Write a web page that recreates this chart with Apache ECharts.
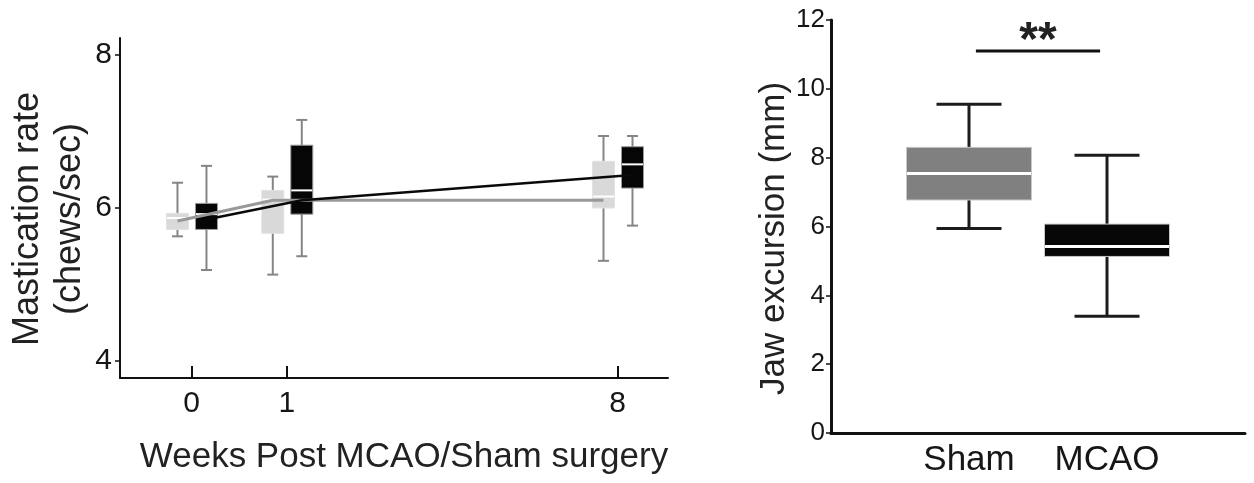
<!DOCTYPE html>
<html>
<head>
<meta charset="utf-8">
<script src="https://cdn.jsdelivr.net/npm/echarts@6/dist/echarts.min.js"></script>
<style>
html,body{margin:0;padding:0;background:#fff;}
#chart{width:1254px;height:483px;}
</style>
</head>
<body>
<div id="chart"></div>
<script>
// ---------- Data ----------
// Left panel: mastication rate (chews/sec), box stats = [min, q1, median, q3, max]
const weekLabels = ['0', '1', '8'];
const weekAxisPos = [0, 1, 4.47];         // position of each week on the (broken) time axis
const rateTicks = [4, 6, 8];
const shamRate = [
  [5.63, 5.72, 5.87, 5.93, 6.33],
  [5.13, 5.67, 6.11, 6.23, 6.41],
  [5.31, 6.00, 6.15, 6.61, 6.94]
];
const mcaoRate = [
  [5.19, 5.72, 5.92, 6.06, 6.55],
  [5.37, 5.92, 6.23, 6.82, 7.15],
  [5.77, 6.26, 6.57, 6.80, 6.94]
];
const shamMean = [5.83, 6.10, 6.10];
const mcaoMean = [5.85, 6.10, 6.43];

// Right panel: jaw excursion (mm)
const groups = ['Sham', 'MCAO'];
const groupPos = [1, 2];
const jawStats = [
  [5.94, 6.77, 7.54, 8.30, 9.55],
  [3.39, 5.13, 5.42, 6.07, 8.07]
];
const sigFrom = 1.05, sigTo = 1.95, sigLevel = 11.1, sigLabel = '**';

// ---------- Styles ----------
const FONT = "'Liberation Sans', Arial, Helvetica, sans-serif";
const TXT = '#161616';

function boxRenderer(offset, boxW, capW, fill, stroke, whiskerColor, whiskerW, medW) {
  return function (params, api) {
    const x = api.value(0);
    const v = [api.value(1), api.value(2), api.value(3), api.value(4), api.value(5)];
    const cx = api.coord([x, v[2]])[0] + offset;
    const y = v.map(d => api.coord([x, d])[1]);
    const half = boxW / 2, ch = capW / 2;
    return {
      type: 'group',
      children: [
        { type: 'line', shape: { x1: cx, y1: y[0], x2: cx, y2: y[4] }, style: { stroke: whiskerColor, lineWidth: whiskerW } },
        { type: 'line', shape: { x1: cx - ch, y1: y[0], x2: cx + ch, y2: y[0] }, style: { stroke: whiskerColor, lineWidth: whiskerW } },
        { type: 'line', shape: { x1: cx - ch, y1: y[4], x2: cx + ch, y2: y[4] }, style: { stroke: whiskerColor, lineWidth: whiskerW } },
        { type: 'rect', shape: { x: cx - half, y: y[3], width: boxW, height: y[1] - y[3] }, style: { fill: fill, stroke: stroke, lineWidth: 1 } },
        { type: 'line', shape: { x1: cx - half + 0.5, y1: y[2], x2: cx + half - 0.5, y2: y[2] }, style: { stroke: '#ffffff', lineWidth: medW } }
      ]
    };
  };
}

function meanRenderer(means, offset, color, width) {
  return function (params, api) {
    if (params.dataIndex !== 0) return null;
    const pts = means.map((m, i) => {
      const p = api.coord([weekAxisPos[i], m]);
      return [p[0] + offset, p[1]];
    });
    return { type: 'polyline', shape: { points: pts }, style: { stroke: color, lineWidth: width, fill: null } };
  };
}

const option = {
  animation: false,
  backgroundColor: '#ffffff',
  textStyle: { fontFamily: FONT },
  grid: [
    { left: 120, top: 38, width: 548, height: 340 },
    { left: 831, top: 20, width: 414, height: 413 }
  ],
  xAxis: [
    {
      type: 'value', gridIndex: 0, min: -0.75, max: 5.0,
      axisLine: { show: true, onZero: false, lineStyle: { color: '#111', width: 2 } },
      axisTick: { show: true, inside: true, length: 12, customValues: weekAxisPos, lineStyle: { color: '#111', width: 2 } },
      axisLabel: {
        customValues: weekAxisPos, fontSize: 30, color: TXT, margin: 11, fontFamily: FONT,
        formatter: v => { const i = weekAxisPos.indexOf(v); return i >= 0 ? weekLabels[i] : ''; }
      },
      splitLine: { show: false },
      name: 'Weeks Post MCAO/Sham surgery', nameLocation: 'middle', nameGap: 62,
      nameTextStyle: { fontSize: 35, color: '#222', fontFamily: FONT, padding: [0, 0, 0, 20] }
    },
    {
      type: 'value', gridIndex: 1, min: 0, max: 3,
      axisLine: { show: true, onZero: false, lineStyle: { color: '#111', width: 3 } },
      axisTick: { show: false },
      axisLabel: {
        customValues: groupPos, fontSize: 35, color: TXT, margin: 10, fontFamily: FONT,
        formatter: v => { const i = groupPos.indexOf(v); return i >= 0 ? groups[i] : ''; }
      },
      splitLine: { show: false }
    }
  ],
  yAxis: [
    {
      type: 'value', gridIndex: 0, min: 3.78, max: 8.22,
      axisLine: { show: true, onZero: false, lineStyle: { color: '#111', width: 2 } },
      axisTick: { show: true, length: 5, customValues: rateTicks, lineStyle: { color: '#111', width: 1.5 } },
      axisLabel: { customValues: rateTicks, fontSize: 30, color: TXT, margin: 8, fontFamily: FONT },
      splitLine: { show: false },
      name: 'Mastication rate\n(chews/sec)', nameLocation: 'middle', nameGap: 28,
      nameTextStyle: { fontSize: 36, lineHeight: 42, color: '#222', fontFamily: FONT, padding: [0, 22, 0, 0] }
    },
    {
      type: 'value', gridIndex: 1, min: 0, max: 12, interval: 2,
      axisLine: { show: true, onZero: false, lineStyle: { color: '#111', width: 3 } },
      axisTick: { show: true, length: 5, lineStyle: { color: '#111', width: 1.5 } },
      axisLabel: { fontSize: 26, color: TXT, margin: 6, fontFamily: FONT },
      splitLine: { show: false },
      name: 'Jaw excursion (mm)', nameLocation: 'middle', nameGap: 38,
      nameTextStyle: { fontSize: 35, color: '#222', fontFamily: FONT, padding: [0, 24, 0, 0] }
    }
  ],
  series: [
    {
      type: 'custom', name: 'Sham rate', xAxisIndex: 0, yAxisIndex: 0, z: 2,
      renderItem: boxRenderer(-14, 22, 11, '#d9d9d9', '#e2e2e2', '#858585', 2, 2),
      data: shamRate.map((s, i) => [weekAxisPos[i]].concat(s)),
      encode: { x: 0, y: [1, 2, 3, 4, 5] }
    },
    {
      type: 'custom', name: 'MCAO rate', xAxisIndex: 0, yAxisIndex: 0, z: 2,
      renderItem: boxRenderer(15, 22, 11, '#060606', '#9a9a9a', '#858585', 2, 2),
      data: mcaoRate.map((s, i) => [weekAxisPos[i]].concat(s)),
      encode: { x: 0, y: [1, 2, 3, 4, 5] }
    },
    {
      type: 'custom', name: 'Sham mean', xAxisIndex: 0, yAxisIndex: 0, z: 3,
      renderItem: meanRenderer(shamMean, -14, '#999999', 3),
      data: shamMean.map((m, i) => [weekAxisPos[i], m]),
      encode: { x: 0, y: 1 }
    },
    {
      type: 'custom', name: 'MCAO mean', xAxisIndex: 0, yAxisIndex: 0, z: 4,
      renderItem: meanRenderer(mcaoMean, 15, '#0a0a0a', 2.5),
      data: mcaoMean.map((m, i) => [weekAxisPos[i], m]),
      encode: { x: 0, y: 1 }
    },
    {
      type: 'custom', name: 'Jaw excursion', xAxisIndex: 1, yAxisIndex: 1, z: 2,
      renderItem: function (params, api) {
        const colors = ['#808080', '#070707'];
        const r = boxRenderer(0, 125, 65, colors[params.dataIndex], '#c8c8c8', '#1c1c1c', 3, 3);
        return r(params, api);
      },
      data: jawStats.map((s, i) => [groupPos[i]].concat(s)),
      encode: { x: 0, y: [1, 2, 3, 4, 5] }
    },
    {
      type: 'custom', name: 'Significance', xAxisIndex: 1, yAxisIndex: 1, z: 5,
      renderItem: function (params, api) {
        const a = api.coord([sigFrom, sigLevel]);
        const b = api.coord([sigTo, sigLevel]);
        return {
          type: 'group',
          children: [
            { type: 'line', shape: { x1: a[0], y1: a[1], x2: b[0], y2: b[1] }, style: { stroke: '#111', lineWidth: 3 } },
            { type: 'text', x: (a[0] + b[0]) / 2, y: a[1] - 9,
              style: { text: sigLabel, fill: '#222', font: "bold 48px " + FONT, textAlign: 'center', textVerticalAlign: 'middle' } }
          ]
        };
      },
      data: [[sigFrom, sigLevel]],
      encode: { x: 0, y: 1 }
    }
  ]
};

const chart = echarts.init(document.getElementById('chart'), null, { renderer: 'canvas' });
chart.setOption(option);
</script>
</body>
</html>
